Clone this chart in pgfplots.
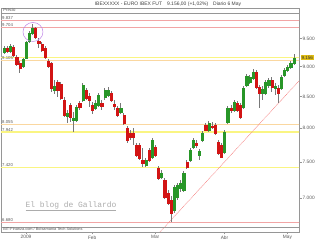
\documentclass[border=0pt]{standalone}
\usepackage{pgfplots}
\pgfplotsset{compat=1.18}
\usepackage{pgfplotstable}
\usepackage{fontspec}
\setmainfont{Liberation Sans}
\newfontfamily\monofont{Liberation Mono}
\definecolor{cgreen}{RGB}{40,150,40}
\definecolor{cred}{RGB}{210,20,20}
\definecolor{cwick}{RGB}{120,120,120}
\definecolor{lpink}{RGB}{242,165,165}
\definecolor{lyellow}{RGB}{250,245,130}
\definecolor{lorange}{RGB}{250,215,160}
\definecolor{cgold}{RGB}{225,190,20}
\definecolor{cframe}{RGB}{150,150,150}
\definecolor{ctext}{RGB}{90,90,90}
\definecolor{cviolet}{RGB}{190,130,230}

\pgfplotstableread{
i o h l c
0 9257 9364 9222 9328
1 9328 9364 9239 9274
2 9274 9400 9239 9364
3 9346 9382 9169 9204
4 9169 9204 9012 9046
5 9064 9099 8892 8977
6 9012 9151 8977 9134
7 9151 9454 9134 9436
8 9454 9637 9418 9600
9 9600 9767 9563 9692
10 9692 9711 9490 9526
11 9454 9508 9328 9418
12 9400 9436 9257 9292
13 9328 9364 9134 9169
14 9099 9134 8977 9012
15 9064 9081 8574 8640
16 8607 8773 8541 8673
17 8740 8773 8493 8607
18 8707 8740 8444 8476
19 8444 8493 8174 8205
20 8189 8284 8080 8237
21 8363 8395 8096 8174
22 8127 8252 7942 8158
23 8127 8363 8096 8331
24 8395 8428 8284 8331
25 8444 8723 8412 8690
26 8607 8640 8444 8476
27 8509 8558 8331 8444
28 8363 8412 8221 8284
29 8316 8444 8284 8395
30 8363 8558 8331 8525
31 8395 8444 8284 8347
32 8493 8640 8444 8607
33 8525 8657 8493 8607
34 8558 8591 8412 8444
35 8379 8444 8284 8347
36 8316 8347 8174 8205
37 8252 8395 8221 8316
38 8205 8237 8049 8080
39 8003 8034 7776 7821
40 7926 7972 7821 7866
41 7926 8003 7747 7866
42 7747 7776 7571 7600
43 7747 7776 7527 7556
44 7527 7703 7428 7484
45 7456 7556 7428 7527
46 7673 7703 7499 7527
47 7571 7851 7542 7821
48 7717 7747 7571 7600
49 7413 7442 7245 7273
50 7286 7385 7259 7343
51 7245 7273 6986 7013
52 7067 7107 6906 6933
53 6973 7027 6686 6801
54 6840 7176 6801 7148
55 7013 7204 6973 7176
56 7135 7245 7080 7204
57 7107 7371 7080 7343
58 7499 7527 7399 7428
59 7527 7703 7499 7673
60 7717 7851 7688 7821
61 7776 7821 7703 7747
62 7600 7688 7527 7658
63 7821 7957 7791 7926
64 8049 8080 7957 7972
65 7972 8111 7942 8080
66 8034 8096 7987 8018
67 8049 8080 7896 7926
68 7791 7821 7600 7629
69 7747 7776 7556 7571
70 7644 7972 7615 7942
71 8096 8347 8065 8316
72 8316 8363 8237 8284
73 8284 8444 8252 8412
74 8395 8428 8252 8284
75 8363 8395 8143 8174
76 8331 8673 8300 8640
77 8690 8875 8657 8841
78 8740 8858 8707 8824
79 8807 8960 8773 8909
80 8909 8943 8624 8657
81 8657 8690 8316 8558
82 8558 8673 8444 8624
83 8558 8773 8525 8740
84 8690 8807 8640 8773
85 8773 8824 8574 8657
86 8640 8723 8525 8673
87 8640 8690 8395 8558
88 8640 8858 8607 8824
89 8858 8977 8824 8943
90 8943 9029 8909 8994
91 8994 9099 8960 9064
92 9064 9222 9029 9156
}\candles

\begin{document}
\begin{tikzpicture}
\useasboundingbox (0,0) rectangle (320bp,240bp);
\begin{axis}[at={(1bp,8bp)}, anchor=south west, scale only axis,
  width=298bp, height=224bp,
  xmin=-0.95, xmax=93.65, ymode=log, ymin=6557, ymax=10071,
  axis line style={cframe, line width=0.6bp},
  xtick={7,28,48,70,90}, xticklabels={2009,Feb,Mar,Abr,May},
  ytick={7000,7500,8000,8500,9000,9500},
  yticklabels={7.000,7.500,8.000,8.500,9.000,9.500},
  yminorticks=false, xminorticks=false,
  xtick pos=lower, ytick pos=right, yticklabel pos=right,
  tick align=outside, major tick length=2.5bp,
  tick style={cframe, line width=0.4bp},
  xticklabel style={font=\fontsize{4.8}{5}\selectfont, text=ctext, inner sep=1bp},
  yticklabel style={font=\fontsize{4.8}{5}\selectfont, text=ctext, inner sep=1bp},
  clip mode=individual,
]
% support / resistance lines
\addplot[lpink, line width=1.2bp, forget plot] coordinates {(-1,9837) (94,9837)};
\addplot[lpink, line width=1.2bp, forget plot] coordinates {(-1,9704) (94,9704)};
\addplot[lyellow, line width=1.4bp, forget plot] coordinates {(-1,9156) (94,9156)};
\addplot[lorange, line width=1.2bp, forget plot] coordinates {(-1,9105) (94,9105)};
\addplot[lorange, line width=1.2bp, forget plot] coordinates {(-1,8055) (94,8055)};
\addplot[lyellow, line width=1.4bp, forget plot] coordinates {(-1,7942) (94,7942)};
\addplot[lyellow, line width=1.4bp, forget plot] coordinates {(-1,7420) (94,7420)};
\addplot[lpink, line width=1.2bp, forget plot] coordinates {(-1,6680) (94,6680)};
% trend line
\addplot[lpink!80!red, line width=0.5bp, dash pattern=on 1bp off 0.6bp, forget plot] coordinates {(48,6491) (95,8836)};
% candles
\pgfplotsinvokeforeach{0,...,92}{%
  \pgfplotstablegetelem{#1}{o}\of\candles\let\cO\pgfplotsretval
  \pgfplotstablegetelem{#1}{h}\of\candles\let\cH\pgfplotsretval
  \pgfplotstablegetelem{#1}{l}\of\candles\let\cL\pgfplotsretval
  \pgfplotstablegetelem{#1}{c}\of\candles\let\cC\pgfplotsretval
  \ifdim\cC pt<\cO pt \def\cCol{cred}\else\def\cCol{cgreen}\fi
  \pgfmathsetmacro\xa{#1-0.34}\pgfmathsetmacro\xb{#1+0.34}%
  \edef\temp{%
    \noexpand\addplot[cwick, line width=0.6bp, forget plot] coordinates {(#1,\cL) (#1,\cH)};
    \noexpand\addplot[fill=\cCol, draw=\cCol, line width=0.2bp, forget plot] coordinates {(\xa,\cO) (\xb,\cO) (\xb,\cC) (\xa,\cC)} --cycle;
  }\temp
}
% header / footer strips
\draw[cframe, line width=0.4bp] (axis description cs:0,0.9777) -- (axis description cs:1,0.9777);
\draw[cframe, line width=0.4bp] (axis description cs:0,0.0223) -- (axis description cs:1,0.0223);
\node[anchor=west, font=\fontsize{4.3}{5}\selectfont, text=ctext, inner sep=0] at (axis description cs:0.007,0.989) {Precio};
\node[anchor=west, font=\fontsize{3.9}{5}\selectfont, text=ctext, inner sep=0] at (axis description cs:0.007,0.011) {BIT-Finanza.com / Bolsamania Tech Solutions};
% left level labels
\node[anchor=south west, font=\fontsize{4.3}{5}\selectfont, text=ctext, inner sep=0.4bp] at (axis cs:-0.75,9837) {9.837};
\node[anchor=south west, font=\fontsize{4.3}{5}\selectfont, text=ctext, inner sep=0.4bp] at (axis cs:-0.75,9704) {9.704};
\node[anchor=south west, font=\fontsize{4.3}{5}\selectfont, text=ctext, inner sep=0.4bp] at (axis cs:-0.75,9105) {9.105};
\node[anchor=south west, font=\fontsize{4.3}{5}\selectfont, text=ctext, inner sep=0.4bp] at (axis cs:-0.75,8055) {8.055};
\node[anchor=south west, font=\fontsize{4.3}{5}\selectfont, text=ctext, inner sep=0.4bp] at (axis cs:-0.75,7942) {7.942};
\node[anchor=south west, font=\fontsize{4.3}{5}\selectfont, text=ctext, inner sep=0.4bp] at (axis cs:-0.75,7420) {7.420};
\node[anchor=south west, font=\fontsize{4.3}{5}\selectfont, text=ctext, inner sep=0.4bp] at (axis cs:-0.75,6680) {6.680};
% highlight circle on the January high
\draw[cviolet, line width=0.5bp] (axis cs:9.2,9618) ellipse [x radius=10bp, y radius=9.5bp];
% watermark
\node[font=\monofont\fontsize{8}{9}\selectfont, text=gray!65] at (axis description cs:0.235,0.116) {\underline{El blog de Gallardo}};
\coordinate (cp) at (axis cs:93.65,9156);
\end{axis}
\node[anchor=west, fill=cgold, font=\fontsize{4.6}{5}\selectfont, text=black!80, inner xsep=0.8bp, inner ysep=0.8bp, xshift=1.5bp] at (cp) {9.156};
\node[font=\fontsize{5}{6}\selectfont, text=black!75] at (168bp,235.5bp) {IBEXXXXX - EURO IBEX FUT\quad 9.156,00 (+1,02\%)\quad Diario 6 May};
\end{tikzpicture}
\end{document}
